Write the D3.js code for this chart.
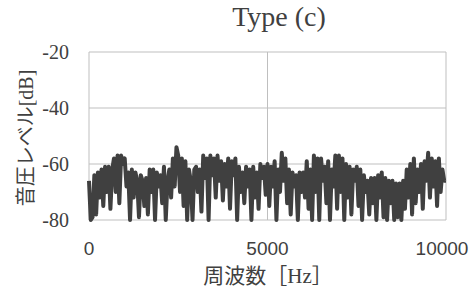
<!DOCTYPE html>
<html>
<head>
<meta charset="utf-8">
<script src="https://cdn.jsdelivr.net/npm/d3@7"></script>
<style>
  body { margin: 0; background: #fff; }
  text { fill: #404040; }
</style>
</head>
<body>
<svg id="chart"></svg>
<script>
const freqStep = 50;
const levels = [
  -66, -80, -79, -64, -78, -63, -72, -62, -75, -61,
  -70, -61, -76, -62, -58, -70, -57, -74, -57, -60,
  -58, -68, -63, -80, -62, -72, -63, -66, -79, -64,
  -66, -75, -65, -78, -62, -70, -62, -80, -63, -68,
  -64, -74, -61, -80, -66, -62, -72, -58, -68, -54,
  -57, -70, -58, -75, -59, -80, -62, -66, -80, -62,
  -61, -70, -62, -77, -57, -65, -58, -80, -57, -64,
  -58, -72, -57, -66, -59, -73, -60, -68, -58, -76,
  -59, -64, -58, -80, -61, -70, -63, -74, -61, -68,
  -62, -80, -61, -72, -63, -76, -60, -65, -61, -71,
  -60, -75, -61, -68, -59, -80, -62, -70, -56, -66,
  -58, -74, -62, -78, -63, -68, -64, -80, -63, -70,
  -63, -72, -59, -76, -62, -80, -57, -70, -58, -80,
  -58, -66, -61, -74, -59, -80, -62, -68, -57, -76,
  -57, -70, -58, -80, -60, -72, -61, -78, -62, -66,
  -61, -75, -62, -80, -64, -70, -66, -78, -65, -74,
  -65, -80, -64, -72, -63, -79, -65, -80, -66, -74,
  -66, -80, -67, -79, -67, -80, -66, -76, -62, -72,
  -60, -78, -58, -74, -62, -70, -60, -76, -59, -66,
  -56, -72, -58, -68, -59, -75, -58, -70, -62, -66,
  -66
];
const xTicks = [0, 5000, 10000];
const yTicks = [-80, -60, -40, -20];

const width = 476, height = 298;
const margin = {top: 52, right: 30, bottom: 78, left: 89};

const svg = d3.select("#chart")
  .attr("width", width)
  .attr("height", height);

const x = d3.scaleLinear()
  .domain([0, 10000])
  .range([margin.left, width - margin.right]);

const y = d3.scaleLinear()
  .domain([-80, -20])
  .range([height - margin.bottom, margin.top]);

const serif = "'Liberation Serif', 'Noto Sans CJK JP', serif";

// gridlines
svg.append("g")
  .selectAll("line")
  .data(yTicks)
  .enter().append("line")
  .attr("x1", x(0)).attr("x2", x(10000))
  .attr("y1", d => y(d)).attr("y2", d => y(d))
  .attr("stroke", "#bfbfbf");

svg.append("g")
  .selectAll("line")
  .data(xTicks)
  .enter().append("line")
  .attr("x1", d => x(d)).attr("x2", d => x(d))
  .attr("y1", y(-80)).attr("y2", y(-20))
  .attr("stroke", "#bfbfbf");

// the signal
const data = levels.map((v, i) => ({f: i * freqStep, v}));
svg.append("path")
  .datum(data)
  .attr("fill", "none")
  .attr("stroke", "#404040")
  .attr("stroke-width", 4)
  .attr("stroke-linejoin", "round")
  .attr("d", d3.line().x(d => x(d.f)).y(d => y(d.v)));

// tick labels
svg.append("g")
  .selectAll("text")
  .data(yTicks)
  .enter().append("text")
  .attr("x", 69)
  .attr("y", d => y(d))
  .attr("dy", "0.33em")
  .attr("text-anchor", "end")
  .style("font-family", serif)
  .style("font-size", "20px")
  .text(d => d);

svg.append("g")
  .selectAll("text")
  .data(xTicks)
  .enter().append("text")
  .attr("x", d => x(d) - (d === 10000 ? 4 : 0))
  .attr("y", 255)
  .attr("text-anchor", "middle")
  .style("font-family", "'Liberation Sans', sans-serif")
  .style("font-size", "19px")
  .text(d => d);

// titles
svg.append("text")
  .attr("x", 279).attr("y", 26)
  .attr("text-anchor", "middle")
  .style("font-family", serif)
  .style("font-size", "28px")
  .text("Type (c)");

svg.append("text")
  .attr("x", 268).attr("y", 283)
  .attr("text-anchor", "middle")
  .style("font-family", serif)
  .style("font-size", "21px")
  .text("周波数［Hz］");

svg.append("text")
  .attr("transform", "translate(26,138) rotate(-90)")
  .attr("dy", "0.36em")
  .attr("text-anchor", "middle")
  .style("font-family", serif)
  .style("font-size", "20px")
  .text("音圧レベル[dB]");
</script>
</body>
</html>
